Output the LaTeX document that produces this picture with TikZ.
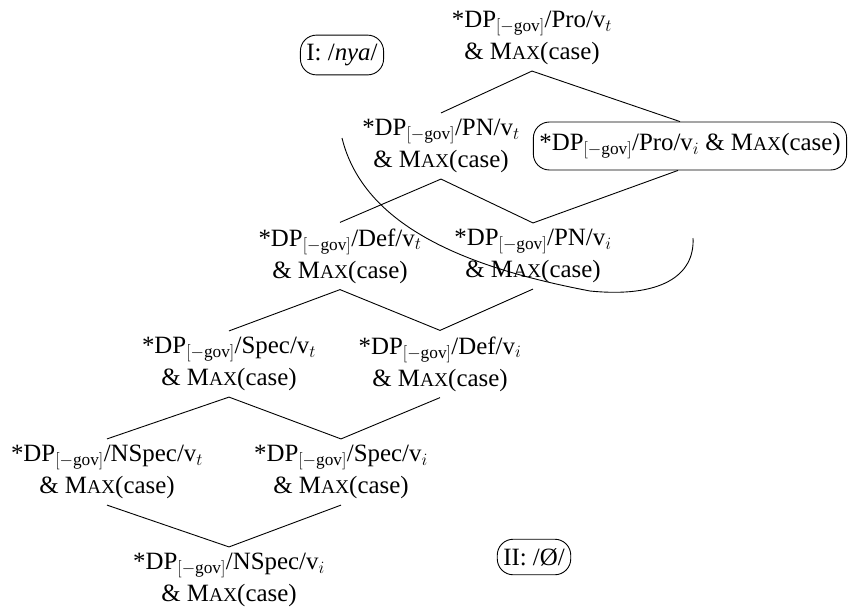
\documentclass[tikz,border=0pt]{standalone}
\usepackage{fontspec}
\setmainfont{Liberation Serif}
\DeclareMathSizes{24.88}{24.88}{17.28}{12}
\newcommand{\mxc}{M{\fontsize{19.5}{20}\selectfont AX}(case)}
\newcommand{\dpg}{*DP$_{[-\mathrm{gov}]}$}
\begin{document}
\begin{tikzpicture}[x=1pt,y=-1pt]
\tikzset{
  lab/.style={align=center, inner xsep=2pt, inner ysep=6pt, font=\fontsize{24.88}{32}\selectfont},
  boxed/.style={lab, draw, line width=0.9pt, rounded corners=16pt, inner xsep=6pt, inner ysep=9pt},
  edge/.style={line width=0.9pt},
}
\useasboundingbox (0,0) rectangle (853,606);
\node[lab] (n1) at (532,38) {\dpg/Pro/v$_t$\\ \& \mxc};
\node[boxed] (ia) at (342,55) {I: /\textit{nya}/};
\node[lab] (n2) at (441,146) {\dpg/PN/v$_t$\\ \& \mxc};
\node[boxed, inner ysep=11pt] (n3) at (690,146) {\dpg/Pro/v$_i$ \& \mxc};
\node[lab] (n4) at (340,256) {\dpg/Def/v$_t$\\ \& \mxc};
\node[lab] (n5) at (533,256) {\dpg/PN/v$_i$\\ \& \mxc};
\node[lab] (n6) at (229,364) {\dpg/Spec/v$_t$\\ \& \mxc};
\node[lab] (n7) at (440,364) {\dpg/Def/v$_i$\\ \& \mxc};
\node[lab] (n8) at (107,472) {\dpg/NSpec/v$_t$\\ \& \mxc};
\node[lab] (n9) at (341,472) {\dpg/Spec/v$_i$\\ \& \mxc};
\node[lab] (n10) at (229,580) {\dpg/NSpec/v$_i$\\ \& \mxc};
\node[boxed] (ib) at (534,557) {II: /Ø/};
\draw[edge] (n1.south) -- (n2.north);
\draw[edge] (n1.south) -- ([xshift=-10pt]n3.north);
\draw[edge] (n2.south) -- (n4.north);
\draw[edge] (n2.south) -- (n5.north);
\draw[edge] ([xshift=-12pt]n3.south) -- (n5.north);
\draw[edge] (n4.south) -- (n6.north);
\draw[edge] (n4.south) -- (n7.north);
\draw[edge] (n5.south) -- (n7.north);
\draw[edge] (n6.south) -- (n8.north);
\draw[edge] (n6.south) -- (n9.north);
\draw[edge] (n7.south) -- (n9.north);
\draw[edge] (n8.south) -- (n10.north);
\draw[edge] (n9.south) -- (n10.north);
\draw[edge] (342,138) .. controls (365,232) and (480,270) .. (590,291) .. controls (660,298) and (695,276) .. (693,238);
\end{tikzpicture}
\end{document}
